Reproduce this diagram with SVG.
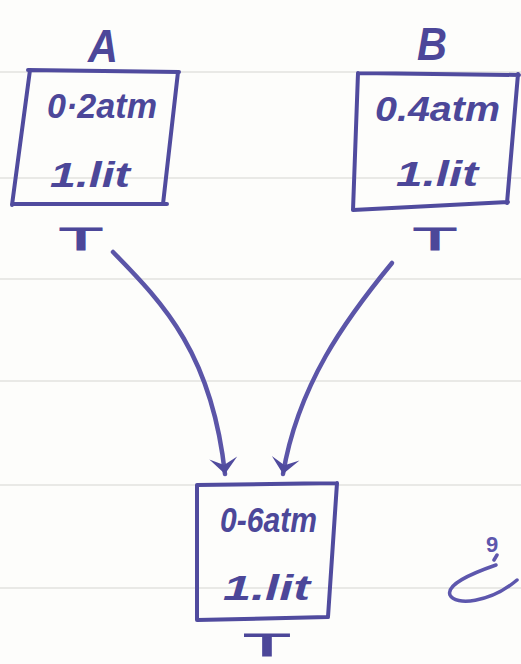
<svg xmlns="http://www.w3.org/2000/svg" width="521" height="664" viewBox="0 0 521 664">
  <style>
    .ink { fill: none; stroke: #504b9e; stroke-width: 4; stroke-linecap: round; stroke-linejoin: round; }
    .wire { fill: none; stroke: #5b55a8; stroke-width: 4.5; stroke-linecap: round; }
    .rule { stroke: #e9e9e6; stroke-width: 2; }
    .lbl { font-family: "Liberation Sans", "DejaVu Sans", sans-serif; font-style: italic; font-weight: bold; fill: #4c4799; }
    .val { font-family: "Liberation Sans", "DejaVu Sans", sans-serif; font-style: italic; font-weight: bold; fill: #4c4799; font-size: 35px; }
    .temp { font-family: "Liberation Sans", "DejaVu Sans", sans-serif; fill: #4c4799; font-size: 31px; text-anchor: middle; stroke: #4c4799; stroke-width: 1; }
  </style>
  <defs>
    <!-- hand-drawn style arrowhead, tip at the path end -->
    <marker id="head" viewBox="-2 -16 22 32" refX="16" refY="0" markerWidth="22" markerHeight="32" markerUnits="userSpaceOnUse" orient="auto">
      <path d="M0,-14 L16,0 L0,14 L7,0 Z" fill="#504b9e"/>
    </marker>
  </defs>

  <!-- ruled notebook paper -->
  <rect width="521" height="664" fill="#fdfdfb"/>
  <g id="paper-lines">
    <line class="rule" x1="0" y1="72" x2="521" y2="72"/>
    <line class="rule" x1="0" y1="178" x2="521" y2="178"/>
    <line class="rule" x1="0" y1="279" x2="521" y2="279"/>
    <line class="rule" x1="0" y1="381" x2="521" y2="381"/>
    <line class="rule" x1="0" y1="485" x2="521" y2="485"/>
    <line class="rule" x1="0" y1="588" x2="521" y2="588"/>
  </g>

  <!-- vessel A -->
  <g id="vessel-a">
    <text class="lbl" x="103" y="62" font-size="46" text-anchor="middle" textLength="30" lengthAdjust="spacingAndGlyphs">A</text>
    <path class="ink" d="M28,70 L179,72 M178,72 L163,204 M12,204 L167,204 M30,70 L12,205"/>
    <text class="val" x="47" y="118" textLength="110" lengthAdjust="spacingAndGlyphs">0·2atm</text>
    <text class="val" x="50" y="187" textLength="80" lengthAdjust="spacingAndGlyphs">1.lit</text>
    <text class="temp" x="81" y="250" textLength="44" lengthAdjust="spacingAndGlyphs">T</text>
  </g>

  <!-- vessel B -->
  <g id="vessel-b">
    <text class="lbl" x="432" y="60" font-size="46" text-anchor="middle" textLength="30" lengthAdjust="spacingAndGlyphs">B</text>
    <path class="ink" d="M358,73 L519,75 M518,74 L507,203 M353,210 L508,202 M358,73 L353,210"/>
    <text class="val" x="375" y="121" textLength="125" lengthAdjust="spacingAndGlyphs">0.4atm</text>
    <text class="val" x="396" y="186" textLength="82" lengthAdjust="spacingAndGlyphs">1.lit</text>
    <text class="temp" x="435" y="250" textLength="44" lengthAdjust="spacingAndGlyphs">T</text>
  </g>

  <!-- mixed vessel -->
  <g id="vessel-mix">
    <path class="ink" d="M197,485 L337,483 M337,483 L328,617 M197,620 L328,617 M197,485 L197,620"/>
    <text class="val" x="220" y="532" textLength="97" lengthAdjust="spacingAndGlyphs">0-6atm</text>
    <text class="val" x="223" y="600" textLength="87" lengthAdjust="spacingAndGlyphs">1.lit</text>
    <text class="temp" x="267" y="656" font-size="28" textLength="47" lengthAdjust="spacingAndGlyphs">T</text>
  </g>

  <!-- connectors -->
  <g id="connectors">
    <path class="wire" d="M113,252 C165,305 212,355 225,474" marker-end="url(#head)"/>
    <path class="wire" d="M392,263 C345,320 298,385 283,474" marker-end="url(#head)"/>
  </g>

  <!-- margin hook -->
  <g id="hook">
    <text x="492" y="552" font-family="Liberation Sans, sans-serif" font-size="22" font-weight="bold" fill="#5d57ad" text-anchor="middle">9</text>
    <path d="M497,555 L494,560 M496,565 C470,574 446,585 450,595 C455,606 490,603 517,580" fill="none" stroke="#5d57ad" stroke-width="3.5" stroke-linecap="round"/>
  </g>
</svg>
